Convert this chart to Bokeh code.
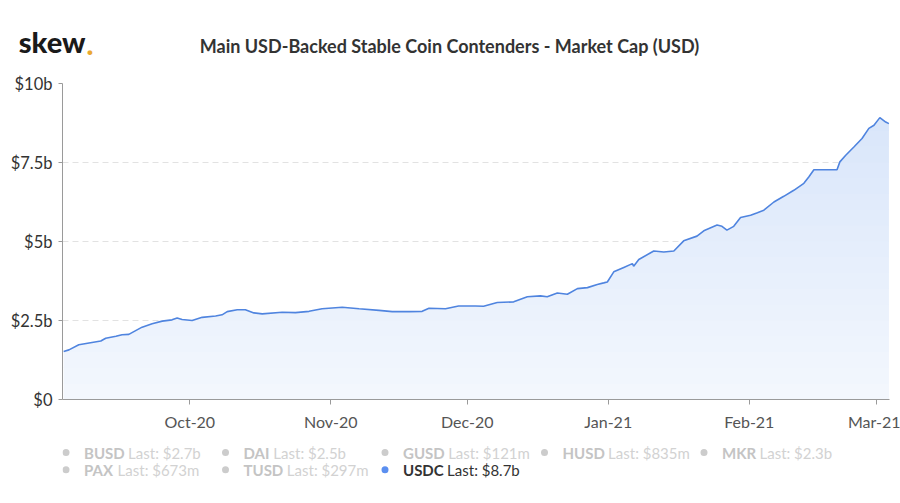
import numpy as np
import pandas as pd
from bokeh.plotting import figure
from bokeh.layouts import column
from bokeh.models import FixedTicker, DatetimeTickFormatter, CustomJSTickFormatter, Range1d
from bokeh.core.properties import value
from bokeh.embed import file_html
from bokeh.resources import INLINE

# ---------------- data ----------------
dates = [
    "2020-09-03 06:00", "2020-09-04 10:00", "2020-09-06 14:00", "2020-09-08 20:00",
    "2020-09-11 10:00", "2020-09-12 12:00", "2020-09-14 18:00", "2020-09-16 02:00",
    "2020-09-17 14:00", "2020-09-19 02:00", "2020-09-20 12:00", "2020-09-22 17:00",
    "2020-09-24 22:00", "2020-09-27 02:00", "2020-09-28 05:00", "2020-09-29 07:00",
    "2020-10-01 12:00", "2020-10-03 17:00", "2020-10-06 16:00", "2020-10-08 02:00",
    "2020-10-09 05:00", "2020-10-11 10:00", "2020-10-13 05:00", "2020-10-15 02:00",
    "2020-10-16 22:00", "2020-10-21 07:00", "2020-10-24 05:00", "2020-10-27 05:00",
    "2020-10-30 02:00", "2020-11-03 12:00", "2020-11-07 05:00", "2020-11-11 14:00",
    "2020-11-14 12:00", "2020-11-18 05:00", "2020-11-21 02:00", "2020-11-22 14:00",
    "2020-11-26 05:00", "2020-11-29 02:00", "2020-12-02 19:00", "2020-12-04 14:00",
    "2020-12-07 14:00", "2020-12-11 05:00", "2020-12-14 05:00", "2020-12-17 02:00",
    "2020-12-18 14:00", "2020-12-20 19:00", "2020-12-23 00:00", "2020-12-25 05:00",
    "2020-12-27 10:00", "2020-12-29 14:00", "2020-12-31 00:00", "2020-12-31 19:00",
    "2021-01-02 05:00", "2021-01-04 10:00", "2021-01-06 07:00", "2021-01-06 14:00",
    "2021-01-07 17:00", "2021-01-11 00:00", "2021-01-13 05:00", "2021-01-15 10:00",
    "2021-01-17 14:00", "2021-01-20 12:00", "2021-01-22 00:00", "2021-01-24 22:00",
    "2021-01-26 00:00", "2021-01-27 02:00", "2021-01-28 14:00", "2021-01-30 02:00",
    "2021-02-01 07:00", "2021-02-02 19:00", "2021-02-04 05:00", "2021-02-06 10:00",
    "2021-02-08 14:00", "2021-02-10 19:00", "2021-02-13 00:00", "2021-02-14 02:00",
    "2021-02-15 05:00", "2021-02-20 07:00", "2021-02-20 22:00", "2021-02-22 05:00",
    "2021-02-24 00:00", "2021-02-25 19:00", "2021-02-27 07:00", "2021-02-28 10:00",
    "2021-03-01 17:00", "2021-03-03 00:00", "2021-03-03 17:00",
]
usdc_cap_b = [
    1.52, 1.57, 1.73, 1.79,
    1.85, 1.94, 2.00, 2.05,
    2.06, 2.18, 2.29, 2.40,
    2.48, 2.52, 2.58, 2.53,
    2.50, 2.60, 2.64, 2.68,
    2.78, 2.84, 2.84, 2.74,
    2.71, 2.76, 2.75, 2.79,
    2.87, 2.92, 2.87, 2.82,
    2.78, 2.78, 2.79, 2.89,
    2.87, 2.96, 2.96, 2.95,
    3.07, 3.09, 3.25, 3.28,
    3.25, 3.37, 3.33, 3.51,
    3.54, 3.64, 3.69, 3.72,
    4.04, 4.18, 4.30, 4.22,
    4.43, 4.70, 4.67, 4.70,
    5.02, 5.17, 5.34, 5.52,
    5.48, 5.36, 5.48, 5.76,
    5.83, 5.91, 5.99, 6.25,
    6.43, 6.62, 6.84, 7.04,
    7.27, 7.27, 7.52, 7.73,
    7.99, 8.26, 8.58, 8.68,
    8.92, 8.78, 8.73,
]

month_ticks = ["2020-10-01", "2020-11-01", "2020-12-01", "2021-01-01", "2021-02-01", "2021-03-01"]
y_ticks = [0, 2.5, 5, 7.5, 10]

legend_names = ["BUSD", "DAI", "GUSD", "HUSD", "MKR", "PAX", "TUSD", "USDC"]
legend_last = ["$2.7b", "$2.5b", "$121m", "$835m", "$2.3b", "$673m", "$297m", "$8.7b"]
legend_active = [False, False, False, False, False, False, False, True]

title_text = "Main USD-Backed Stable Coin Contenders - Market Cap (USD)"
logo_text = "skew"

FONT = "Lato"
LOGO_FONT = "Lato Black, Lato"
W = 900
BL, BR = 62, 11          # left / right borders shared by all panels (frames are aligned)
FX0, FX1 = BL, W - BR    # frame extent in page pixels


def text_panel(h):
    f = figure(width=W, height=h, x_range=Range1d(FX0, FX1), y_range=Range1d(h, 0),
               output_backend="svg", toolbar_location=None, tools="",
               min_border_left=BL, min_border_right=BR, min_border_top=0, min_border_bottom=0,
               x_axis_location=None, y_axis_location=None)
    f.grid.grid_line_color = None
    f.outline_line_color = None
    f.background_fill_color = "white"
    f.border_fill_color = "white"
    return f


# ---------------- header ----------------
H1 = 60
header = figure(width=W, height=H1, x_range=Range1d(FX0, FX1), y_range=Range1d(H1, 0),
                output_backend="svg", toolbar_location=None, tools="",
                min_border_left=BL, min_border_right=BR, min_border_top=0, min_border_bottom=0,
                x_axis_location=None, y_axis_location="left")
header.grid.grid_line_color = None
header.outline_line_color = None
header.background_fill_color = "white"
header.border_fill_color = "white"
# logo drawn as the header's single left tick label
header.yaxis.ticker = FixedTicker(ticks=[44])
header.yaxis.formatter = CustomJSTickFormatter(code="return '%s';" % logo_text)
header.yaxis.axis_line_color = None
header.yaxis.major_tick_line_color = None
header.yaxis.minor_tick_line_color = None
header.yaxis.major_tick_out = 0
header.yaxis.major_tick_in = 0
header.yaxis.major_label_standoff = -23
header.yaxis.major_label_text_font = LOGO_FONT
header.yaxis.major_label_text_font_style = "normal"
header.yaxis.major_label_text_font_size = "29px"
header.yaxis.major_label_text_color = "#1a1a1a"

header.text(x=[86], y=[44], text=["."], text_font=value(LOGO_FONT), text_font_style="normal",
            text_font_size="29px", text_color="#eaa930", text_align="left", text_baseline="middle")
header.text(x=[449], y=[45], text=[title_text], text_font=value(FONT), text_font_style="bold",
            text_font_size="18px", text_color="#333333", text_align="center", text_baseline="middle")

# ---------------- main chart ----------------
x = pd.to_datetime(dates)
v = np.array(usdc_cap_b)

H2 = 380
p = figure(
    width=W, height=H2,
    x_axis_type="datetime",
    x_range=(pd.Timestamp("2020-09-03 00:00"), pd.Timestamp("2021-03-03 20:00")),
    y_range=(0, 10),
    output_backend="svg", toolbar_location=None, tools="",
    min_border_left=BL, min_border_right=BR, min_border_top=23, min_border_bottom=41,
)
p.outline_line_color = None
p.background_fill_color = "white"
p.border_fill_color = "white"

LINE = "#4f84df"
top_col = np.array([0xd6, 0xe4, 0xfa])
bot_col = np.array([0xf4, 0xf8, 0xfe])
levels = np.linspace(0, 10, 21)
for k in range(len(levels) - 1):
    lo, hi = levels[k], levels[k + 1]
    t = (lo + hi) / 2 / 10
    c = (bot_col + (top_col - bot_col) * t).astype(int)
    col = "#%02x%02x%02x" % tuple(c)
    p.varea(x=x, y1=np.minimum(v, lo), y2=np.minimum(v, hi + 0.03), fill_color=col)

p.line(x, v, line_color=LINE, line_width=1.6)

p.xaxis.ticker = FixedTicker(ticks=[pd.Timestamp(d).value / 1e6 for d in month_ticks])
p.xaxis.formatter = DatetimeTickFormatter(days="%b-%y", months="%b-%y", years="%b-%y")
p.xaxis.major_label_text_font = FONT
p.xaxis.major_label_text_font_size = "16px"
p.xaxis.major_label_text_color = "#555555"
p.xaxis.axis_line_color = "#9a9a9a"
p.xaxis.major_tick_line_color = "#9a9a9a"
p.xaxis.major_tick_out = 5
p.xaxis.major_tick_in = 0
p.xaxis.minor_tick_line_color = None
p.xaxis.major_label_standoff = 7

p.yaxis.ticker = FixedTicker(ticks=y_ticks)
p.yaxis.formatter = CustomJSTickFormatter(code="return tick == 0 ? '$0' : '$' + tick + 'b';")
p.yaxis.major_label_text_font = FONT
p.yaxis.major_label_text_font_size = "16.5px"
p.yaxis.major_label_text_color = "#333333"
p.yaxis.axis_line_color = "#9a9a9a"
p.yaxis.major_tick_line_color = "#9a9a9a"
p.yaxis.major_tick_out = 4
p.yaxis.major_tick_in = 0
p.yaxis.minor_tick_line_color = None
p.yaxis.major_label_standoff = 6

p.xgrid.grid_line_color = None
p.ygrid.grid_line_color = "#e2e2e2"
p.ygrid.grid_line_dash = "6 4"

# ---------------- legend ----------------
H3 = 62
leg = text_panel(H3)
bold_w = {"A": 0.69, "B": 0.66, "C": 0.66, "D": 0.75, "G": 0.73, "H": 0.76, "I": 0.29,
          "K": 0.68, "M": 0.92, "P": 0.62, "R": 0.64, "S": 0.54, "T": 0.61, "U": 0.73, "X": 0.67}
fs = 15
col_w = 159.5
dx, dy, nx, lx = [], [], [], []
dcol, ncol, lcol, ltxt = [], [], [], []
for i, (name, last, active) in enumerate(zip(legend_names, legend_last, legend_active)):
    row, cx = divmod(i, 5)
    x0 = 65.5 + cx * col_w
    y0 = 12 + row * 17.3
    wn = sum(bold_w.get(ch, 0.65) for ch in name) * fs + 0.26 * fs
    dx.append(x0); dy.append(y0)
    nx.append(x0 + 18); lx.append(x0 + 18 + wn)
    dcol.append("#5b8ff0" if active else "#cccccc")
    ncol.append("#333333" if active else "#c4c4c4")
    lcol.append("#333333" if active else "#d2d2d2")
    ltxt.append("Last: " + last)

leg.scatter(x=dx, y=dy, size=7, marker="circle", fill_color=dcol, line_color=None)
leg.text(x=nx, y=dy, text=legend_names, text_font=value(FONT), text_font_style="bold",
         text_font_size=f"{fs}px", text_color=ncol, text_align="left", text_baseline="middle")
leg.text(x=lx, y=dy, text=ltxt, text_font=value(FONT),
         text_font_size=f"{fs}px", text_color=lcol, text_align="left", text_baseline="middle")

layout = column(header, p, leg, spacing=0)
open("out.html", "w").write(file_html(layout, INLINE))
